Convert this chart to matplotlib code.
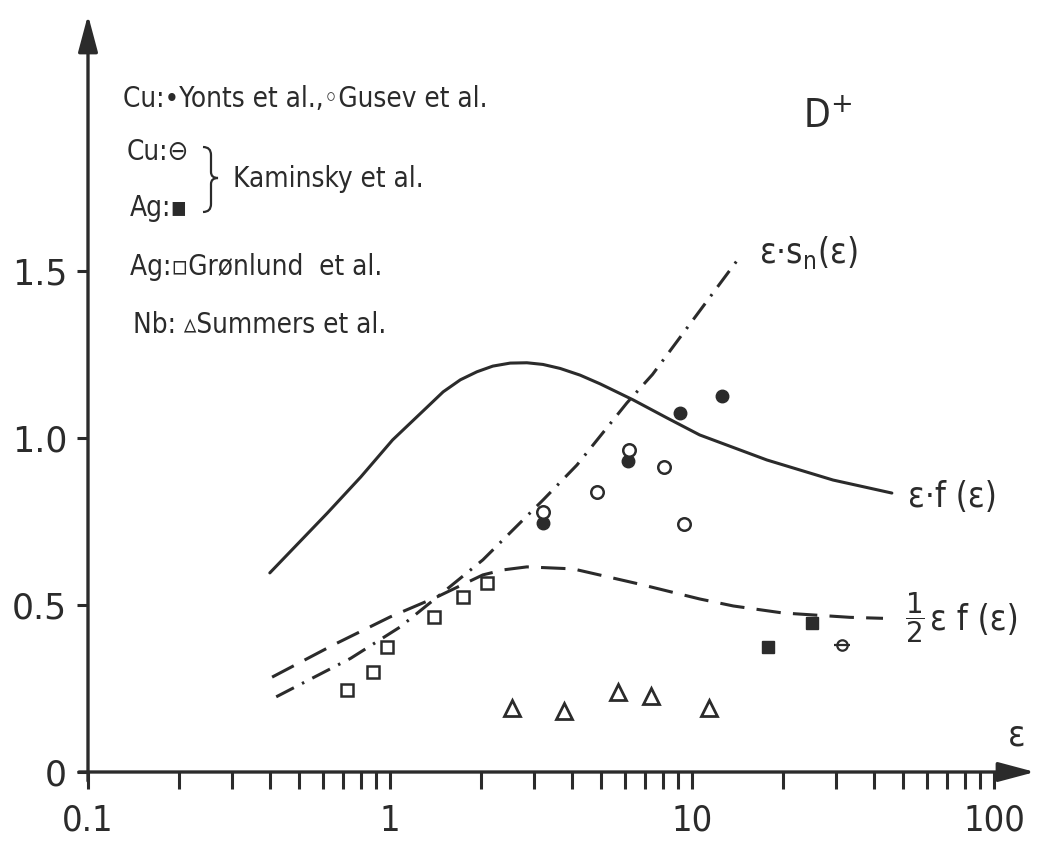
import matplotlib
matplotlib.use('Agg')
import matplotlib.pyplot as plt
from matplotlib.path import Path
from matplotlib.patches import PathPatch
from matplotlib.ticker import NullFormatter

INK = '#2b2b2b'

# eps * f(eps), solid curve
ef_eps = [0.40, 0.62, 0.80, 1.02, 1.33, 1.50, 1.71, 1.94, 2.19, 2.50, 2.84,
          3.21, 3.66, 4.26, 4.96, 6.38, 8.26, 10.6, 17.7, 29.3, 45.9]
ef_val = [0.596, 0.775, 0.883, 0.994, 1.093, 1.138, 1.174, 1.198, 1.215,
          1.224, 1.225, 1.220, 1.208, 1.188, 1.162, 1.114, 1.060, 1.009,
          0.934, 0.874, 0.835]

# 1/2 eps * f(eps), dashed curve
half_eps = [0.407, 0.648, 1.00, 1.43, 2.03, 2.37, 2.84, 4.04, 6.73, 10.6,
            13.7, 20.0, 33.3, 42.9]
half_val = [0.284, 0.380, 0.464, 0.524, 0.590, 0.605, 0.614, 0.608, 0.562,
            0.518, 0.497, 0.476, 0.463, 0.460]

# eps * s_n(eps), dash-dot curve
sn_eps = [0.42, 0.74, 1.08, 1.49, 2.03, 3.21, 4.16, 6.09, 7.40, 14.4]
sn_val = [0.225, 0.340, 0.434, 0.536, 0.635, 0.814, 0.919, 1.105, 1.190, 1.542]

# measurements
yonts_eps = [3.21, 6.14, 9.13, 12.6]
yonts_val = [0.745, 0.931, 1.075, 1.126]
gusev_eps = [3.22, 4.85, 6.20, 8.07, 9.41]
gusev_val = [0.778, 0.838, 0.964, 0.913, 0.743]
kam_cu_eps = [31.4]
kam_cu_val = [0.380]
kam_ag_eps = [17.9, 24.9]
kam_ag_val = [0.374, 0.446]
gron_eps = [0.72, 0.878, 0.98, 1.40, 1.74, 2.10]
gron_val = [0.246, 0.299, 0.374, 0.464, 0.524, 0.566]
summ_eps = [2.54, 3.77, 5.69, 7.32, 11.4]
summ_val = [0.192, 0.183, 0.240, 0.228, 0.192]

x_major = [0.1, 1, 10, 100]
x_major_labels = ['0.1', '1', '10', '100']
x_minor = [m * d for d in (0.1, 1, 10) for m in range(2, 10)]
y_ticks = [0, 0.5, 1.0, 1.5]
y_labels = ['0', '0.5', '1.0', '1.5']

W, H = 1044, 849
FONT = dict(family='DejaVu Sans', stretch='condensed', color=INK)


def fig_xy(x, y):
    """Pixel position (from top-left) to figure fraction."""
    return x / W, 1 - y / H


def main() -> None:
    plt.rcParams['mathtext.fontset'] = 'dejavusans'
    fig = plt.figure(figsize=(W / 100, H / 100), dpi=100)
    ax = fig.add_axes([88 / W, 77 / H, 947 / W, 757 / H])
    ax.set_xscale('log')
    ax.set_xlim(0.1, 136.7)
    ax.set_ylim(0, 2.266)
    for s in ax.spines.values():
        s.set_visible(False)

    draw_axes(ax)
    draw_curves(ax)
    draw_points(ax)
    draw_labels(ax)
    draw_key(fig)

    fig.savefig('out.png', dpi=100)


def draw_axes(ax):
    arrow = dict(arrowstyle='-|>,head_length=0.75,head_width=0.2',
                 lw=2.4, color=INK, mutation_scale=30, shrinkA=0, shrinkB=0)
    ax.annotate('', xy=(1, 0), xytext=(-9 / 947, 0), xycoords='axes fraction',
                arrowprops=arrow, annotation_clip=False)
    ax.annotate('', xy=(0, 1), xytext=(0, -9 / 757), xycoords='axes fraction',
                arrowprops=arrow, annotation_clip=False)

    ax.set_xticks(x_major, x_major_labels)
    ax.set_xticks(x_minor, minor=True)
    ax.xaxis.set_minor_formatter(NullFormatter())
    ax.set_yticks(y_ticks, y_labels)
    ax.tick_params(axis='x', which='both', direction='out', length=12,
                   width=2.2, color=INK, pad=11, labelsize=26, labelcolor=INK)
    ax.tick_params(axis='y', direction='out', length=8, width=2.2,
                   color=INK, pad=7, labelsize=25, labelcolor=INK)
    for lab in ax.get_xticklabels():
        lab.set_fontstretch('condensed')


def draw_curves(ax):
    ax.plot(ef_eps, ef_val, color=INK, lw=2.2, solid_capstyle='round')
    ax.plot(half_eps, half_val, color=INK, lw=2.2, dashes=(8, 4))
    ax.plot(sn_eps, sn_val, color=INK, lw=2.2, dashes=(6.5, 3, 0.8, 3))


def draw_points(ax):
    ax.plot(yonts_eps, yonts_val, 'o', ms=9, mfc=INK, mec=INK)
    ax.plot(gusev_eps, gusev_val, 'o', ms=9, mfc='white', mec=INK, mew=1.8)
    ax.plot(kam_cu_eps, kam_cu_val, 'o', ms=7.5, mfc='white', mec=INK, mew=1.6)
    ax.plot(kam_cu_eps, kam_cu_val, '_', ms=12, mec=INK, mew=1.6)
    ax.plot(kam_ag_eps, kam_ag_val, 's', ms=8, mfc=INK, mec=INK)
    ax.plot(gron_eps, gron_val, 's', ms=9, mfc='none', mec=INK, mew=1.8)
    ax.plot(summ_eps, summ_val, '^', ms=11, mfc='none', mec=INK, mew=2)


def draw_labels(ax):
    ax.text(16.7, 1.524, 'ε·s$_{\\mathregular{n}}$(ε)', fontsize=25, **FONT)
    ax.text(51.9, 0.793, 'ε·f (ε)', fontsize=25, **FONT)
    ax.text(50.7, 0.461, r'$\dfrac{1}{2}$', fontsize=20, va='center', **FONT)
    ax.text(61.4, 0.425, 'ε f (ε)', fontsize=25, **FONT)
    ax.text(23.3, 1.928, 'D$^{+}$', fontsize=28, **FONT)
    ax.text(111, 0.08, 'ε', fontsize=26, **FONT)


def draw_key(fig):
    size = 20
    rows = [(123, 107, 'Cu:•Yonts et al.,◦Gusev et al.'),
            (127, 160, 'Cu:⊖'),
            (130, 216, 'Ag:▪'),
            (233, 187, 'Kaminsky et al.'),
            (130, 275, 'Ag:▫Grønlund  et al.'),
            (133, 333, 'Nb: ▵Summers et al.')]
    for x, y, txt in rows:
        fx, fy = fig_xy(x, y)
        fig.text(fx, fy, txt, fontsize=size, va='baseline', **FONT)

    # curly brace joining the two Kaminsky rows
    x0, xm, xt = 203, 211, 218
    top, mid, bot = 147, 178, 212
    pts = [(x0, top), (xm, top), (xm, top + 8), (xm, mid - 6), (xm, mid),
           (xt, mid), (xm, mid), (xm, mid + 6), (xm, bot - 8), (xm, bot),
           (x0, bot)]
    codes = [Path.MOVETO, Path.CURVE3, Path.CURVE3, Path.LINETO, Path.CURVE3,
             Path.CURVE3, Path.CURVE3, Path.CURVE3, Path.LINETO, Path.CURVE3,
             Path.CURVE3]
    path = Path([fig_xy(x, y) for x, y in pts], codes)
    fig.patches.append(PathPatch(path, fill=False, lw=1.6, ec=INK,
                                 transform=fig.transFigure))


if __name__ == '__main__':
    main()
